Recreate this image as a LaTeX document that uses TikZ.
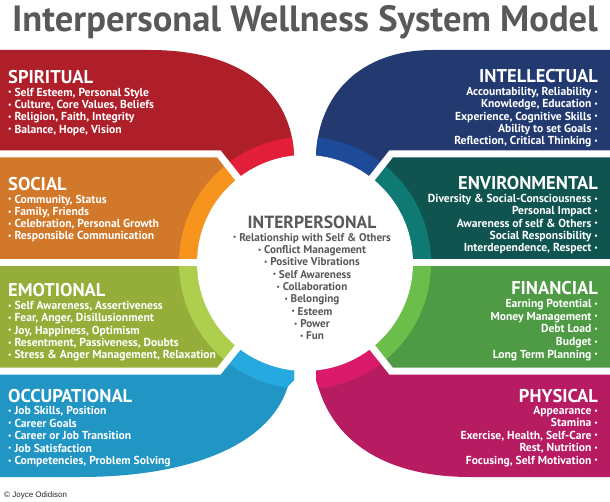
\documentclass[tikz,border=0pt]{standalone}
\usepackage{fontspec}
\setmainfont{PT Sans}
\newfontfamily\cpy{Liberation Sans}
\newcommand{\bl}{\raisebox{0.12em}{\scalebox{0.65}{•}}}
\definecolor{spB}{HTML}{AE1F2A}\definecolor{spR}{HTML}{E31E38}
\definecolor{soB}{HTML}{D2782A}\definecolor{soR}{HTML}{F7941D}
\definecolor{emB}{HTML}{95AE3A}\definecolor{emR}{HTML}{AECF4E}
\definecolor{ocB}{HTML}{2196C4}\definecolor{ocR}{HTML}{25A9DF}
\definecolor{inB}{HTML}{233A70}\definecolor{inR}{HTML}{1E4A9A}
\definecolor{enB}{HTML}{0F544F}\definecolor{enR}{HTML}{0E7A73}
\definecolor{fiB}{HTML}{4E9A45}\definecolor{fiR}{HTML}{6CBE4A}
\definecolor{phB}{HTML}{B71C62}\definecolor{phR}{HTML}{DC1A6B}
\definecolor{txtgray}{HTML}{58595B}
\begin{document}
\begin{tikzpicture}[x=1pt,y=-1pt,
  head/.style={text=white,font=\fontsize{18.5}{18.5}\selectfont\bfseries,inner sep=0pt},
  item/.style={text=white,font=\fontsize{11.6}{12}\selectfont\bfseries,inner sep=0pt},
  citem/.style={text=txtgray,font=\fontsize{11.2}{12}\selectfont\bfseries,inner sep=0pt,anchor=base},
  gap/.style={white,line width=7pt}]
\useasboundingbox (0,0) rectangle (610,502);
\coordinate (C) at (305,263);
% panels
\newcommand{\panelfill}[3]{%
  \begin{scope}\clip #1;
    \fill[#2] (0,0) rectangle (610,502);
    \fill[#3,even odd rule] (C) circle (126) (C) circle (108);
  \end{scope}}
\begin{scope}
  \clip (0,50) -- (150,50) .. controls (245,50) and (292,95) .. (294,156) -- (294,263) -- (294,380)
     -- (288,386) .. controls (270,445) and (190,477) .. (80,477) -- (0,477) -- cycle
     (610,50) -- (433,50) .. controls (360,50) and (318,95) .. (316,156) -- (316,380)
     -- (318,386) .. controls (335,445) and (390,477) .. (470,477) -- (610,477) -- cycle;
  \panelfill{(0,0)--(305,0)--(305,263)--(219,154)--(0,154)--cycle}{spB}{spR}
  \panelfill{(0,154)--(219,154)--(305,263)--(0,263)--cycle}{soB}{soR}
  \panelfill{(0,263)--(305,263)--(219,371)--(0,371)--cycle}{emB}{emR}
  \panelfill{(0,371)--(219,371)--(305,263)--(305,502)--(0,502)--cycle}{ocB}{ocR}
  \panelfill{(610,0)--(305,0)--(305,263)--(391,154)--(610,154)--cycle}{inB}{inR}
  \panelfill{(610,154)--(391,154)--(305,263)--(610,263)--cycle}{enB}{enR}
  \panelfill{(610,263)--(305,263)--(391,371)--(610,371)--cycle}{fiB}{fiR}
  \panelfill{(610,371)--(391,371)--(305,263)--(305,502)--(610,502)--cycle}{phB}{phR}
\end{scope}
% separators
\coordinate (l1) at (0,154);\coordinate (k1) at (219,154);
\coordinate (l3) at (0,371);\coordinate (k3) at (219,371);
\coordinate (r1) at (610,154);\coordinate (m1) at (391,154);
\coordinate (r3) at (610,371);\coordinate (m3) at (391,371);
\coordinate (l2) at (0,263);\coordinate (r2) at (610,263);
\draw[gap] (l1) -- (k1) -- (C);
\draw[gap] (l3) -- (k3) -- (C);
\draw[gap] (r1) -- (m1) -- (C);
\draw[gap] (r3) -- (m3) -- (C);
\draw[gap] (l2) -- (r2);
\fill[white] (C) circle (108);
% title
\node[text=txtgray,font=\fontsize{36.5}{36.5}\selectfont\bfseries,anchor=base,inner sep=0pt] (title) at (305,32) {Interpersonal Wellness System Model};
% left panels
\node[head,anchor=base west] (hsp) at (8,84) {SPIRITUAL};
\foreach \t [count=\i] in {{Self Esteem, Personal Style},{Culture, Core Values, Beliefs},{Religion, Faith, Integrity},{Balance, Hope, Vision}}
  \node[item,anchor=base west] (sp\i) at (8,84+12.3*\i) {\bl\ \t};
\node[head,anchor=base west] (hso) at (8,191) {SOCIAL};
\foreach \t [count=\i] in {{Community, Status},{Family, Friends},{Celebration, Personal Growth},{Responsible Communication}}
  \node[item,anchor=base west] (so\i) at (8,191+12.2*\i) {\bl\ \t};
\node[head,anchor=base west] (hem) at (8,297) {EMOTIONAL};
\foreach \t [count=\i] in {{Self Awareness, Assertiveness},{Fear, Anger, Disillusionment},{Joy, Happiness, Optimism},{Resentment, Passiveness, Doubts},{Stress \& Anger Management, Relaxation}}
  \node[item,anchor=base west] (em\i) at (8,297+12.4*\i) {\bl\ \t};
\node[head,anchor=base west] (hoc) at (8,402) {OCCUPATIONAL};
\foreach \t [count=\i] in {{Job Skills, Position},{Career Goals},{Career or Job Transition},{Job Satisfaction},{Competencies, Problem Solving}}
  \node[item,anchor=base west] (oc\i) at (8,402+12.5*\i) {\bl\ \t};
% right panels
\node[head,anchor=base east] (hin) at (598,83) {INTELLECTUAL};
\foreach \t [count=\i] in {{Accountability, Reliability},{Knowledge, Education},{Experience, Cognitive Skills},{Ability to set Goals},{Reflection, Critical Thinking}}
  \node[item,anchor=base east] (in\i) at (598,83+12.4*\i) {\t\ \bl};
\node[head,anchor=base east] (hen) at (598,190) {ENVIRONMENTAL};
\foreach \t [count=\i] in {{Diversity \& Social-Consciousness},{Personal Impact},{Awareness of self \& Others},{Social Responsibility},{Interdependence, Respect}}
  \node[item,anchor=base east] (en\i) at (598,190+12.4*\i) {\t\ \bl};
\node[head,anchor=base east] (hfi) at (598,295) {FINANCIAL};
\foreach \t [count=\i] in {{Earning Potential},{Money Management},{Debt Load},{Budget},{Long Term Planning}}
  \node[item,anchor=base east] (fi\i) at (598,295+12.6*\i) {\t\ \bl};
\node[head,anchor=base east] (hph) at (598,402) {PHYSICAL};
\foreach \t [count=\i] in {{Appearance},{Stamina},{Exercise, Health, Self-Care},{Rest, Nutrition},{Focusing, Self Motivation}}
  \node[item,anchor=base east] (ph\i) at (598,402+12.4*\i) {\t\ \bl};
% centre
\node[text=txtgray,font=\fontsize{17.6}{17.6}\selectfont\bfseries,anchor=base,inner sep=0pt] (hip) at (312,229) {INTERPERSONAL};
\foreach \t [count=\i] in {{Relationship with Self \& Others},{Conflict Management},{Positive Vibrations},{Self Awareness},{Collaboration},{Belonging},{Esteem},{Power},{Fun}}
  \node[citem] (ip\i) at (312,229+12.3*\i) {\bl\ \t};
\node[anchor=base west,inner sep=0pt,font=\cpy\fontsize{8}{8}\selectfont,text=black!85] (copy) at (4,497) {© Joyce Odidison};
\end{tikzpicture}
\end{document}
